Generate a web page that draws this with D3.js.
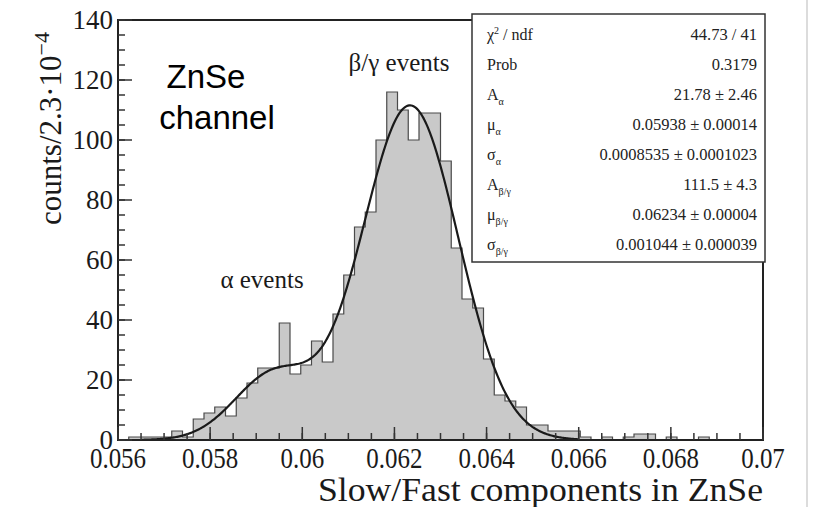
<!DOCTYPE html>
<html>
<head>
<meta charset="utf-8">
<script src="https://cdn.jsdelivr.net/npm/d3@7"></script>
<style>
  html, body { margin: 0; padding: 0; background: #fff; }
  svg { display: block; }
</style>
</head>
<body>
<svg id="chart" width="815" height="507"></svg>
<script>
// ---------------- data ----------------
const xDomain = [0.056, 0.07];
const yDomain = [0, 140];
const nBins = 60;                      // bin width 2.3e-4
const binCounts = [
  0, 1, 1, 1, 1, 3, 1, 7, 9, 11,
  8, 14, 19, 24, 24, 39, 22, 25, 33, 26,
  42, 55, 71, 76, 100, 116, 110, 100, 109, 109,
  93, 64, 47, 44, 27, 15, 13, 11, 5, 5,
  3, 3, 3, 1, 0, 1, 0, 1, 2, 2,
  0, 1, 0, 0, 1, 0, 0, 0, 0, 0
];
const xTickLabels = ["0.056", "0.058", "0.06", "0.062", "0.064", "0.066", "0.068", "0.07"];
const yTickLabels = ["0", "20", "40", "60", "80", "100", "120", "140"];
const fitRange = [0.0565, 0.066];
// fit parameters (from the stats box)
const paramNames  = ["A_α", "μ_α", "σ_α", "A_β/γ", "μ_β/γ", "σ_β/γ"];
const paramValues = [21.78, 0.05938, 0.0008535, 111.5, 0.06234, 0.001044];
const paramErrors = ["2.46", "0.00014", "0.0001023", "4.3", "0.00004", "0.000039"];
const paramValueText = ["21.78", "0.05938", "0.0008535", "111.5", "0.06234", "0.001044"];
const chi2Text = "44.73 / 41";
const probText = "0.3179";

// ---------------- layout ----------------
const svg = d3.select("#chart");
const L = 118, R = 763, T = 20, B = 440;
const x = d3.scaleLinear().domain(xDomain).range([L, R]);
const y = d3.scaleLinear().domain(yDomain).range([B, T]);
const serif = "'Liberation Serif', 'Times New Roman', serif";
const binW = (xDomain[1] - xDomain[0]) / nBins;

// histogram step points
const steps = [];
binCounts.forEach((c, i) => {
  const x0 = xDomain[0] + i * binW, x1 = x0 + binW;
  steps.push([x0, c], [x1, c]);
});
const area = d3.area().x(d => x(d[0])).y0(y(0)).y1(d => y(d[1]));
const line = d3.line().x(d => x(d[0])).y(d => y(d[1]));

svg.append("path").attr("d", area(steps)).attr("fill", "#c9c9c9").attr("stroke", "none");
svg.append("path").attr("d", line([[xDomain[0], 0], ...steps, [xDomain[1], 0]]))
  .attr("fill", "none").attr("stroke", "#4a4a4a").attr("stroke-width", 1.2);

// fit curve
const g = (a, m, s, v) => a * Math.exp(-0.5 * ((v - m) / s) ** 2);
const fitFn = v => g(paramValues[0], paramValues[1], paramValues[2], v) +
                   g(paramValues[3], paramValues[4], paramValues[5], v);
const fitPts = d3.range(0, 401).map(i => {
  const v = fitRange[0] + (fitRange[1] - fitRange[0]) * i / 400;
  return [v, fitFn(v)];
});
svg.append("path").attr("d", line(fitPts)).attr("fill", "none")
  .attr("stroke", "#1a1a1a").attr("stroke-width", 2.2);

// axes: frame
svg.append("rect").attr("x", L).attr("y", T).attr("width", R - L).attr("height", B - T)
  .attr("fill", "none").attr("stroke", "#222").attr("stroke-width", 2);

// x ticks
const xMajor = xTickLabels.map(Number);
const xMinor = d3.range(0, 29).map(i => xDomain[0] + i * 0.0005);
const tk = svg.append("g").attr("stroke", "#333").attr("stroke-width", 1.5);
xMinor.forEach(v => tk.append("line").attr("x1", x(v)).attr("x2", x(v)).attr("y1", B).attr("y2", B - 7));
xMajor.forEach(v => tk.append("line").attr("x1", x(v)).attr("x2", x(v)).attr("y1", B).attr("y2", B - 13));
const yMajor = yTickLabels.map(Number);
const yMinor = d3.range(0, 141, 5);
yMinor.forEach(v => tk.append("line").attr("x1", L).attr("x2", L + 7).attr("y1", y(v)).attr("y2", y(v)));
yMajor.forEach(v => tk.append("line").attr("x1", L).attr("x2", L + 14).attr("y1", y(v)).attr("y2", y(v)));

// tick labels
svg.append("g").selectAll("text").data(xTickLabels).join("text")
  .attr("x", d => x(+d)).attr("y", 468).attr("text-anchor", "middle")
  .attr("font-family", serif).attr("font-size", 29).attr("fill", "#1a1a1a").text(d => d)
  .each(function () {
    const w = this.getComputedTextLength();
    d3.select(this).attr("textLength", w * 0.86).attr("lengthAdjust", "spacingAndGlyphs");
  });
svg.append("g").selectAll("text").data(yTickLabels).join("text")
  .attr("x", 113).attr("y", d => y(+d) + 9).attr("text-anchor", "end")
  .attr("font-family", serif).attr("font-size", 27).attr("fill", "#1a1a1a").text(d => d);

// axis titles
svg.append("text").attr("x", 763).attr("y", 501).attr("text-anchor", "end")
  .attr("font-family", serif).attr("font-size", 33).attr("fill", "#1a1a1a")
  .attr("textLength", 445).attr("lengthAdjust", "spacingAndGlyphs")
  .text("Slow/Fast components in ZnSe");
const yt = svg.append("text").attr("transform", "translate(61,225) rotate(-90)")
  .attr("font-family", serif).attr("font-size", 31).attr("fill", "#1a1a1a");
yt.append("tspan").text("counts/2.3·10");
yt.append("tspan").attr("dy", -12).attr("font-size", 22).text("−4");

// annotations
svg.append("text").attr("x", 399).attr("y", 71).attr("text-anchor", "middle")
  .attr("font-family", serif).attr("font-size", 25).attr("fill", "#1a1a1a").text("β/γ events");
svg.append("text").attr("x", 262).attr("y", 288).attr("text-anchor", "middle")
  .attr("font-family", serif).attr("font-size", 25).attr("fill", "#1a1a1a").text("α events");
const sans = "'Liberation Sans', Arial, sans-serif";
svg.append("text").attr("x", 206).attr("y", 88).attr("text-anchor", "middle")
  .attr("font-family", sans).attr("font-size", 33).attr("fill", "#000").text("ZnSe");
svg.append("text").attr("x", 217).attr("y", 129).attr("text-anchor", "middle")
  .attr("font-family", sans).attr("font-size", 33).attr("fill", "#000").text("channel");

// stats box
const bx = 472, by = 14, bw = 293, bh = 248;
svg.append("rect").attr("x", bx).attr("y", by).attr("width", bw).attr("height", bh)
  .attr("fill", "#fff").attr("stroke", "#333").attr("stroke-width", 1.5);
const rows = [
  {lab: "χ", sup: "2", rest: " / ndf", val: chi2Text},
  {lab: "Prob", val: probText}
];
paramNames.forEach((n, i) => {
  const [base, sub] = n.split("_");
  rows.push({lab: base, sub: sub, val: paramValueText[i] + " ± " + paramErrors[i]});
});
rows.forEach((r, i) => {
  const yy = 40 + i * 30;
  const t = svg.append("text").attr("x", bx + 15).attr("y", yy)
    .attr("font-family", serif).attr("font-size", 16).attr("fill", "#222");
  t.append("tspan").text(r.lab);
  if (r.sup) { t.append("tspan").attr("dy", -6).attr("font-size", 10).text(r.sup);
               t.append("tspan").attr("dy", 6).text(r.rest); }
  if (r.sub) t.append("tspan").attr("dy", 5).attr("font-size", 10).text(r.sub);
  svg.append("text").attr("x", bx + bw - 8).attr("y", yy).attr("text-anchor", "end")
    .attr("font-family", serif).attr("font-size", 16.5).attr("fill", "#222").text(r.val);
});

// thin page edge line at right
svg.append("line").attr("x1", 807).attr("x2", 807).attr("y1", 0).attr("y2", 507)
  .attr("stroke", "#d0d0d0").attr("stroke-width", 1.5);
</script>
</body>
</html>
